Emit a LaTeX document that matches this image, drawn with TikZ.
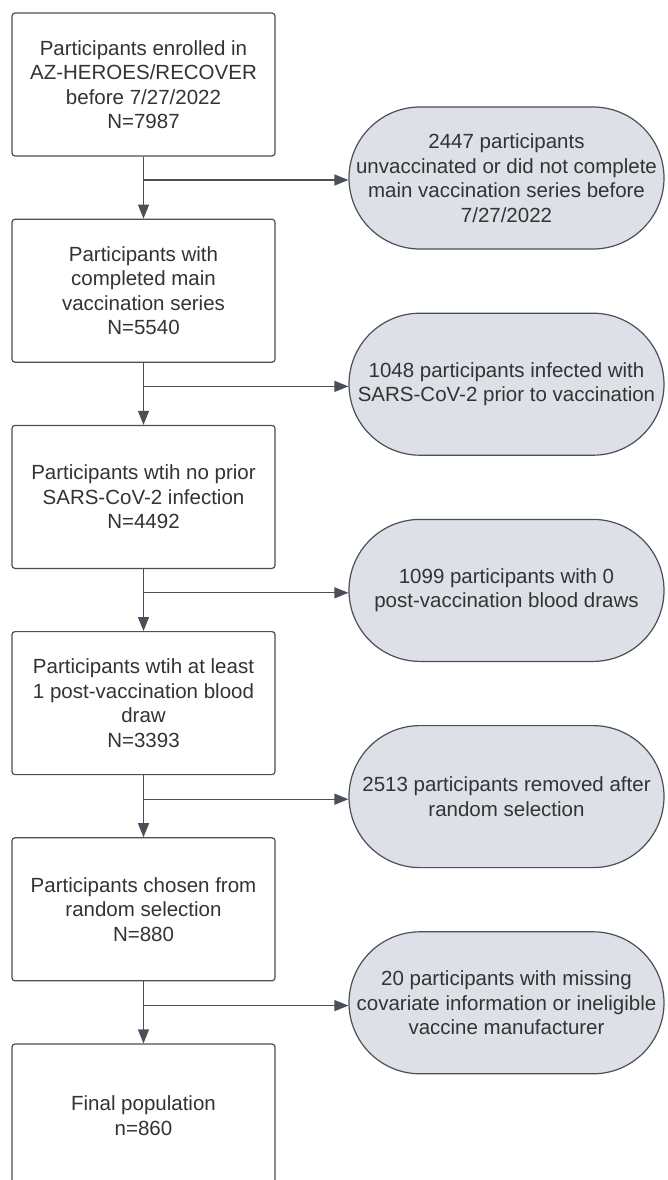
\documentclass[tikz,border=0pt]{standalone}
\usepackage{fontspec}
\setmainfont{Liberation Sans}
\usetikzlibrary{arrows.meta}
\definecolor{txt}{HTML}{333333}
\definecolor{ln}{HTML}{4A4F58}
\definecolor{stfill}{HTML}{DDE0E6}
\begin{document}
\begin{tikzpicture}[x=1pt,y=-1pt,
  every node/.style={text=txt, font=\fontsize{20.5}{24.5}\selectfont, align=center, inner sep=0pt},
  flowbox/.style={draw=ln, line width=1.2pt, fill=white, rounded corners=3pt, minimum width=263pt, minimum height=143pt},
  stadium/.style={draw=ln, line width=1.2pt, fill=stfill, rounded corners=71pt, minimum width=315pt, minimum height=142pt},
  conn/.style={draw=ln, line width=1.2pt, -{Triangle[length=14pt,width=11pt]}},
  plain/.style={draw=ln, line width=1.2pt}]
\clip (0,0) rectangle (667,1180);
\fill[white] (0,0) rectangle (667,1180);

\node[flowbox] (b1) at (143.5,84.5) {Participants enrolled in\\AZ-HEROES/RECOVER\\before 7/27/2022\\N=7987};
\node[flowbox] (b2) at (143.5,290.7) {Participants with\\completed main\\vaccination series\\N=5540};
\node[flowbox] (b3) at (143.5,496.9) {Participants wtih no prior\\SARS-CoV-2 infection\\N=4492};
\node[flowbox] (b4) at (143.5,703.1) {Participants wtih at least\\1 post-vaccination blood\\draw\\N=3393};
\node[flowbox] (b5) at (143.5,909.3) {Participants chosen from\\random selection\\N=880};
\node[flowbox] (b6) at (143.5,1115.5) {Final population\\n=860};

\node[stadium] (s1) at (506.5,178) {2447 participants\\unvaccinated or did not complete\\main vaccination series before\\7/27/2022};
\node[stadium] (s2) at (506.5,384.2) {1048 participants infected with\\SARS-CoV-2 prior to vaccination};
\node[stadium] (s3) at (506.5,590.4) {1099 participants with 0\\post-vaccination blood draws};
\node[stadium] (s4) at (506.5,796.6) {2513 participants removed after\\random selection};
\node[stadium] (s5) at (506.5,1002.8) {20 participants with missing\\covariate information or ineligible\\vaccine manufacturer};

\coordinate (j1) at (143.5,180);
\coordinate (j2) at (143.5,386.4);
\coordinate (j3) at (143.5,592.8);
\coordinate (j4) at (143.5,799.2);
\coordinate (j5) at (143.5,1005.6);

\path[conn] (b1.south) -- (b2.north);
\path[conn] (b2.south) -- (b3.north);
\path[conn] (b3.south) -- (b4.north);
\path[conn] (b4.south) -- (b5.north);
\path[conn] (b5.south) -- (b6.north);

\path[conn] (j1) -- (j1 -| s1.west);
\path[conn] (j2) -- (j2 -| s2.west);
\path[conn] (j3) -- (j3 -| s3.west);
\path[conn] (j4) -- (j4 -| s4.west);
\path[conn] (j5) -- (j5 -| s5.west);
\end{tikzpicture}
\end{document}
